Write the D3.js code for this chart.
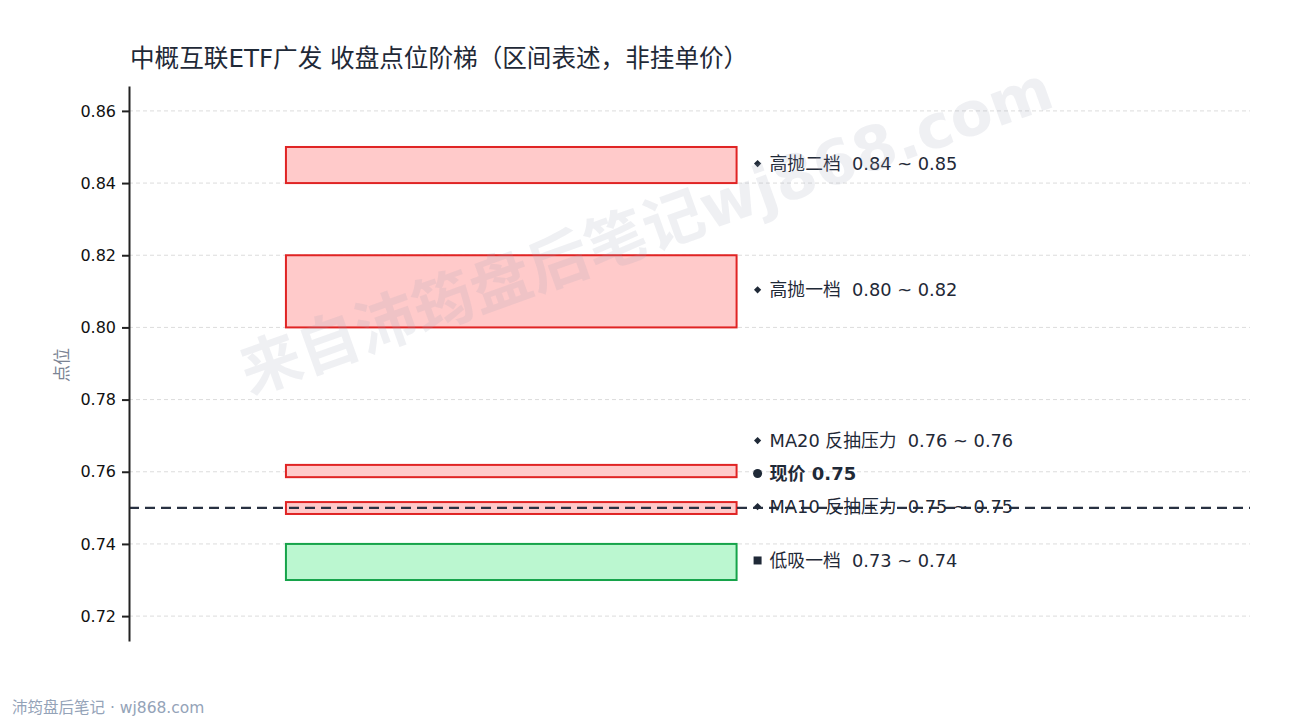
<!DOCTYPE html>
<html><head><meta charset="utf-8">
<script src="https://cdn.jsdelivr.net/npm/d3@7"></script>
<style>
html,body{margin:0;padding:0;background:#fff;}
svg{display:block;font-family:"DejaVu Sans","Noto Sans CJK SC",sans-serif;}
text{white-space:pre;}
</style></head>
<body><svg id="c" width="1290" height="720"></svg>
<script>
// ---- data ----
const zoneNames = ["高抛二档", "高抛一档", "MA20 反抽压力", "MA10 反抽压力", "低吸一档"];
const zoneLow   = [0.84, 0.80, 0.7585, 0.7483, 0.73];
const zoneHigh  = [0.85, 0.82, 0.7619, 0.7516, 0.74];
const zoneKind  = ["sell", "sell", "sell", "sell", "buy"];
const currentLabel = "现价";
const currentPrice = 0.75;
const yTicks = [0.72, 0.74, 0.76, 0.78, 0.80, 0.82, 0.84, 0.86];
const titleText = "中概互联ETF广发 收盘点位阶梯（区间表述，非挂单价）";
const yAxisTitle = "点位";
const watermarkText = "来自沛筠盘后笔记wj868.com";
const footerText = "沛筠盘后笔记 · wj868.com";

// ---- layout ----
const W = 1290, H = 720;
const plot = {left: 129, right: 1250, top: 86, bottom: 641};
const svg = d3.select("#c");

const y = d3.scaleLinear().domain([0.7131, 0.8669]).range([plot.bottom, plot.top]);
const x = d3.scaleLinear().domain([0, 1]).range([plot.left, plot.right]);
const boxX0 = 0.14, boxX1 = 0.542;

// grid
svg.append("g").selectAll("line").data(yTicks).join("line")
  .attr("x1", plot.left).attr("x2", plot.right)
  .attr("y1", d => y(d)).attr("y2", d => y(d))
  .attr("stroke", "#dcdcdc").attr("stroke-width", 1).attr("stroke-dasharray", "4,3");

// boxes
const zones = zoneNames.map((n, i) => ({name: n, lo: zoneLow[i], hi: zoneHigh[i], kind: zoneKind[i]}));
svg.append("g").selectAll("rect").data(zones).join("rect")
  .attr("x", x(boxX0)).attr("width", x(boxX1) - x(boxX0))
  .attr("y", d => y(d.hi)).attr("height", d => y(d.lo) - y(d.hi))
  .attr("fill", d => d.kind === "sell" ? "#ffcaca" : "#bbf7d0")
  .attr("stroke", d => d.kind === "sell" ? "#e02424" : "#16a34a")
  .attr("stroke-width", 2);

// current price line
svg.append("line")
  .attr("x1", plot.left).attr("x2", plot.right)
  .attr("y1", y(currentPrice)).attr("y2", y(currentPrice))
  .attr("stroke", "#283142").attr("stroke-width", 2.2).attr("stroke-dasharray", "10,6");

// axis
const axis = d3.axisLeft(y).tickValues(yTicks).tickFormat(d3.format(".2f"))
  .tickSize(7).tickSizeOuter(0).tickPadding(6);
const ag = svg.append("g").attr("transform", `translate(${plot.left},0)`).call(axis);
ag.select(".domain").attr("stroke", "#222").attr("stroke-width", 2);
ag.selectAll(".tick line").attr("stroke", "#222").attr("stroke-width", 2);
ag.selectAll(".tick text").attr("font-size", 16).attr("fill", "#111")
  .attr("font-family", "'DejaVu Sans',sans-serif");

// labels with overlap avoidance
const fmt = d3.format(".2f");
const labels = zones.map(z => ({
  text: `${z.name}  ${fmt(z.lo)} ~ ${fmt(z.hi)}`,
  yc: y((z.lo + z.hi) / 2), kind: z.kind === "sell" ? "diamond" : "square", bold: false
}));
labels.push({text: `${currentLabel} ${fmt(currentPrice)}`, yc: y(currentPrice), kind: "circle", bold: true});
labels.sort((a, b) => (b.yc - a.yc) || (a.bold ? 1 : -1) - (b.bold ? 1 : -1));
const gap = 33;
let prev = null;
labels.forEach(l => {
  l.y = l.yc;
  if (prev !== null && l.y > prev - gap) l.y = prev - gap;
  prev = l.y;
});

const lx = x(boxX1);
const lg = svg.append("g").selectAll("g").data(labels).join("g")
  .attr("transform", d => `translate(${lx},${d.y - 1.5})`);
lg.append("path")
  .attr("transform", d => d.kind === "diamond" ? "translate(21,0) rotate(45)" : "translate(21,0)")
  .attr("d", d => d3.symbol().type(d.kind === "circle" ? d3.symbolCircle : d3.symbolSquare)
    .size(d.kind === "diamond" ? 26 : d.kind === "square" ? 64 : 64)())
  .attr("fill", "#1f2937");
lg.append("text")
  .attr("x", 33).attr("dominant-baseline", "central")
  .attr("font-size", d => d.bold ? 18 : 17.8)
  .attr("font-weight", d => d.bold ? 700 : 400)
  .attr("fill", "#1f2937")
  .text(d => d.text);

// title
svg.append("text").attr("x", 130).attr("y", 67)
  .attr("font-size", 24.6).attr("fill", "#1f2937").text(titleText);

// y axis title
svg.append("text").attr("transform", `translate(62,365) rotate(-90)`)
  .attr("text-anchor", "middle").attr("dominant-baseline", "central")
  .attr("font-size", 17).attr("fill", "#7b8494").text(yAxisTitle);

// footer
svg.append("text").attr("x", 12).attr("y", 713)
  .attr("font-size", 15.5).attr("fill", "#94a3b8").text(footerText);

// watermark (on top, translucent)
svg.append("text")
  .attr("transform", `translate(646,230) rotate(-19.7)`)
  .attr("text-anchor", "middle").attr("dominant-baseline", "central")
  .attr("font-size", 61).attr("font-weight", 700)
  .attr("fill", "#9aa3b5").attr("fill-opacity", 0.16)
  .text(watermarkText);
</script></body></html>
